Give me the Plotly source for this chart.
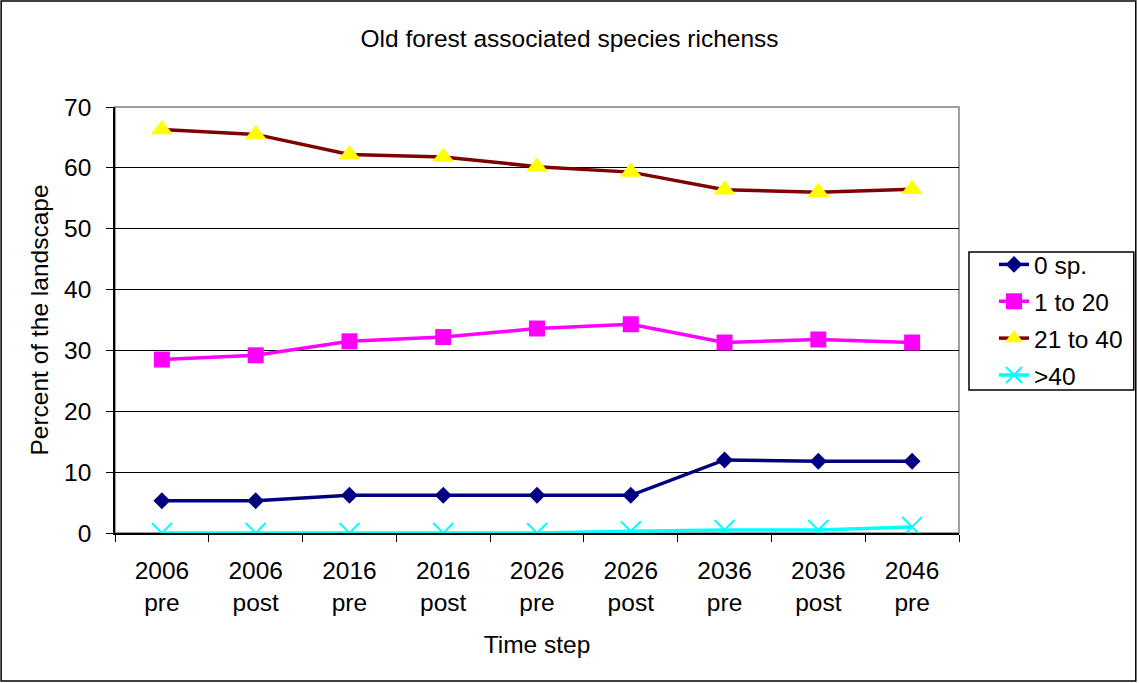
import plotly.graph_objects as go

categories = ["2006<br>pre", "2006<br>post", "2016<br>pre", "2016<br>post", "2026<br>pre",
              "2026<br>post", "2036<br>pre", "2036<br>post", "2046<br>pre"]
sp0 = [5.3, 5.3, 6.2, 6.2, 6.2, 6.2, 12.0, 11.8, 11.8]
sp1_20 = [28.5, 29.2, 31.5, 32.2, 33.6, 34.3, 31.3, 31.8, 31.3]
sp21_40 = [66.3, 65.5, 62.2, 61.8, 60.2, 59.3, 56.4, 56.0, 56.5]
sp40 = [0.0, 0.0, 0.0, 0.0, 0.0, 0.3, 0.5, 0.5, 1.0]
yticks = [0, 10, 20, 30, 40, 50, 60, 70]

W, H = 1139, 683
ML, MR, MT, MB = 115, 179, 107, 150
PW, PH = W - ML - MR, H - MT - MB
FONT = "Liberation Sans, Arial, sans-serif"
FS = 24.5


def px_x(p):
    return (p - ML) / PW


def px_y(p):
    return (H - MB - p) / PH


fig = go.Figure()
fig.add_trace(go.Scatter(x=categories, y=sp0, name="0 sp.", mode="lines+markers", legendgroup="a",
                         line=dict(color="#000080", width=3.5),
                         marker=dict(symbol="diamond", size=13, color="#000080")))
fig.add_trace(go.Scatter(x=categories, y=sp1_20, name="1 to 20", mode="lines+markers", legendgroup="b",
                         line=dict(color="#FF00FF", width=3.5),
                         marker=dict(symbol="square", size=16, color="#FF00FF")))
fig.add_trace(go.Scatter(x=categories, y=sp21_40, name="21 to 40", mode="lines+markers", legendgroup="c",
                         line=dict(color="#800000", width=3.5),
                         marker=dict(symbol="triangle-up", size=19, color="#FFFF00")))
fig.add_trace(go.Scatter(x=categories, y=sp40, name=">40", mode="lines+markers", legendgroup="d",
                         line=dict(color="#00FFFF", width=3.5),
                         marker=dict(symbol="x-thin", size=20, color="#00FFFF",
                                     line=dict(color="#00FFFF", width=2))))

# plot-area border (gray), outer chart border (black), legend box (black)
fig.add_shape(type="rect", xref="paper", yref="paper", x0=0, x1=1, y0=0, y1=1,
              line=dict(color="#808080", width=1.5), layer="below")
fig.add_shape(type="rect", xref="paper", yref="paper",
              x0=px_x(1), x1=px_x(W - 2), y0=px_y(H - 2), y1=px_y(1),
              line=dict(color="black", width=1.5))
fig.add_shape(type="rect", xref="paper", yref="paper",
              x0=px_x(970), x1=px_x(1135), y0=px_y(390), y1=px_y(252),
              line=dict(color="black", width=1.5))

fig.update_layout(
    width=W, height=H,
    margin=dict(l=ML, r=MR, t=MT, b=MB),
    paper_bgcolor="white", plot_bgcolor="white",
    font=dict(family=FONT, size=FS, color="black"),
    title=dict(text="Old forest associated species richenss", x=0.5, xanchor="center",
               y=1 - 38 / H, yanchor="middle", font=dict(family=FONT, size=FS)),
    showlegend=True,
    legend=dict(x=px_x(994), xanchor="left", y=px_y(242), yanchor="top",
                borderwidth=0, bgcolor="rgba(0,0,0,0)",
                font=dict(family=FONT, size=FS), tracegroupgap=2),
    xaxis=dict(type="category", showgrid=False, showline=True, linecolor="black", linewidth=1.5,
               ticks="outside", tickson="boundaries", ticklen=7, tickcolor="black",
               ticklabelstandoff=15,
               title=dict(text="Time step", font=dict(family=FONT, size=FS), standoff=21),
               range=[-0.5, 8.5]),
    yaxis=dict(range=[0, 70], tickvals=yticks, showgrid=True, gridcolor="black", gridwidth=1,
               zeroline=False, showline=True, linecolor="black", linewidth=1.5,
               ticks="outside", ticklen=7, tickcolor="black", ticklabelstandoff=10,
               title=dict(text="Percent of the landscape", font=dict(family=FONT, size=FS),
                          standoff=9)),
)

fig.write_html("out.html", config={"displayModeBar": False},
               post_script="document.body.style.margin='0';")
